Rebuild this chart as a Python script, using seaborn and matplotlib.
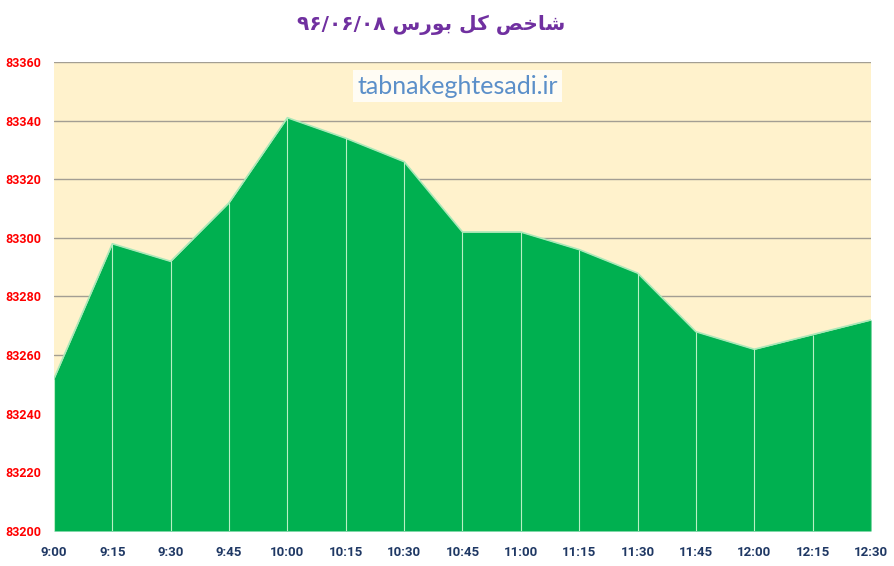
import matplotlib
matplotlib.use("Agg")
import matplotlib.pyplot as plt
import seaborn as sns
import numpy as np
import pandas as pd

# data
times = ["9:00", "9:15", "9:30", "9:45", "10:00", "10:15", "10:30", "10:45",
         "11:00", "11:15", "11:30", "11:45", "12:00", "12:15", "12:30"]
index_values = [83252, 83298, 83292, 83312, 83341, 83334, 83326, 83302,
                83302, 83296, 83288, 83268, 83262, 83267, 83272]
y_ticks = [83200, 83220, 83240, 83260, 83280, 83300, 83320, 83340, 83360]

# title in visual order with presentation forms (matplotlib has no bidi shaping)
title = "\u06f9\u06f6/\u06f0\u06f6/\u06f0\u06f8 \ufeb1\ufead\ufeee\ufe91 \ufede\ufb90 \ufeba\ufea7\ufe8e\ufeb7"

df = pd.DataFrame({"pos": np.arange(len(times)), "value": index_values})

sns.set_style("white")
fig = plt.figure(figsize=(8.95, 5.66), dpi=100)
ax = fig.add_axes([54 / 895, 1 - 531 / 566, (871 - 54) / 895, (531 - 62) / 566])
ax.set_facecolor("#FFF2CC")

green = "#00B050"
ax.fill_between(df["pos"], df["value"], 83200, color=green, zorder=2, linewidth=0)
sns.lineplot(data=df, x="pos", y="value", ax=ax, color="#A9E8B8", linewidth=1.2, zorder=3)
ax.vlines(df["pos"], 83200, df["value"], color="#B8F0C4", linewidth=0.8, zorder=3)

ax.set_xlim(0, len(times) - 1)
ax.set_ylim(83200, 83360)
ax.set_yticks(y_ticks)
ax.yaxis.grid(True, color="#A39E93", linewidth=1.0, zorder=1)
ax.set_axisbelow(True)
for s in ax.spines.values():
    s.set_visible(False)

ax.set_xticks(df["pos"])
ax.set_xticklabels(times)
ax.set_xlabel("")
ax.set_ylabel("")
ax.tick_params(axis="both", length=0)
ax.tick_params(axis="x", pad=11)
ax.tick_params(axis="y", pad=9)
for lab in ax.get_yticklabels():
    lab.set_color("#FF0000")
    lab.set_fontsize(9)
    lab.set_fontweight("bold")
    lab.set_fontstretch("condensed")
    lab.set_family(["Roboto", "DejaVu Sans"])
for lab in ax.get_xticklabels():
    lab.set_color("#1F3864")
    lab.set_fontsize(9.5)
    lab.set_fontweight("bold")
    lab.set_fontstretch("condensed")
    lab.set_family(["Roboto", "DejaVu Sans"])

fig.text(431 / 895, 1 - 25 / 566, title, ha="center", va="center",
         fontsize=14.5, fontweight="bold", color="#7030A0", family=["DejaVu Sans"])

ax.text(0.494, (531 - 86) / 469, "tabnakeghtesadi.ir", transform=ax.transAxes,
        ha="center", va="center", fontsize=18, color="#5B8FC9", family=["Lato", "DejaVu Sans"],
        bbox=dict(facecolor="white", edgecolor="none", alpha=0.8, pad=3), zorder=5)

fig.savefig("out.png", dpi=100)
